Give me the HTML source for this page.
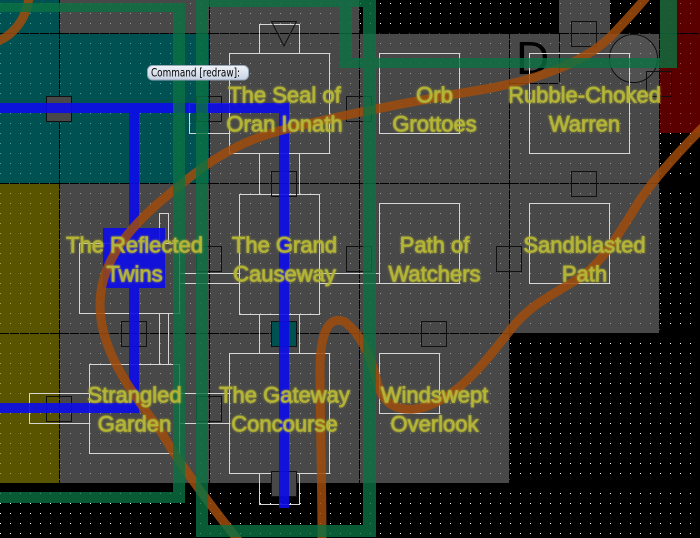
<!DOCTYPE html>
<html><head><meta charset="utf-8"><style>
html,body{margin:0;padding:0;background:#000;}
svg{display:block;}
</style></head><body>
<svg width="700" height="538" viewBox="0 0 700 538" xmlns="http://www.w3.org/2000/svg">
<defs>
<pattern id="dots" width="10" height="10" patternUnits="userSpaceOnUse">
<rect x="0" y="3" width="1" height="1" fill="#fff"/>
</pattern>
<filter id="glow" x="-10%" y="-40%" width="120%" height="180%">
<feGaussianBlur in="SourceGraphic" stdDeviation="1" result="b"/>
<feMerge><feMergeNode in="b"/><feMergeNode in="SourceGraphic"/></feMerge>
</filter>
<linearGradient id="tip" x1="0" y1="0" x2="0" y2="1"><stop offset="0" stop-color="#f0f4fa"/><stop offset="1" stop-color="#c6d1e1"/></linearGradient>
</defs>

<rect width="700" height="538" fill="#000"/>
<rect width="700" height="538" fill="url(#dots)"/>

<!-- region fills -->
<g fill-opacity="0.7">
<g fill="#676767">
<rect x="60" y="0" width="300" height="33"/>
<rect x="210" y="33" width="450" height="150"/>
<rect x="559" y="0" width="51" height="33"/>
<rect x="60" y="183" width="600" height="150"/>
<rect x="60" y="333" width="450" height="150"/>
</g>
<g fill="#007575">
<rect x="0" y="0" width="60" height="183"/>
<rect x="60" y="33" width="150" height="150"/>
</g>
<rect x="0" y="183" width="60" height="300" fill="#7e7800"/>
<rect x="660" y="0" width="40" height="133" fill="#820000"/>
</g>

<!-- grid lines -->
<g stroke="#000" stroke-width="1" stroke-dasharray="9 1" fill="none">
<line x1="59.5" y1="0" x2="59.5" y2="538"/>
<line x1="209.5" y1="0" x2="209.5" y2="538"/>
<line x1="359.5" y1="0" x2="359.5" y2="538"/>
<line x1="509.5" y1="0" x2="509.5" y2="538"/>
<line x1="659.5" y1="0" x2="659.5" y2="538"/>
<line x1="0" y1="33.5" x2="700" y2="33.5"/>
<line x1="0" y1="183.5" x2="700" y2="183.5"/>
<line x1="0" y1="333.5" x2="700" y2="333.5"/>
<line x1="0" y1="483.5" x2="700" y2="483.5"/>
<line x1="559.5" y1="33" x2="559.5" y2="83"/>
<line x1="509" y1="83.5" x2="559" y2="83.5"/>
</g>

<!-- circle and D -->
<circle cx="633.5" cy="58.5" r="24" fill="rgba(255,255,255,0.05)" stroke="#111" stroke-width="1"/>
<text x="516" y="74" font-family="Liberation Sans, sans-serif" font-size="46" fill="#000">D</text>

<!-- room outlines -->
<g stroke="#d6d6d6" stroke-width="1" fill="none">
<rect x="229.5" y="53.5" width="100" height="100"/>
<path d="M259.5,53 V24.5 H299.5 V53"/>
<path d="M229,103.5 H189.5 V133.5 H229"/>
<path d="M259.5,153 V194 M299.5,153 V194"/>
<rect x="239.5" y="194.5" width="80" height="120"/>
<path d="M319,273.5 H379 M319,283.5 H379"/>
<path d="M179,273.5 H239 M179,283.5 H239"/>
<path d="M259.5,314 V353 M299.5,314 V353"/>
<rect x="229.5" y="353.5" width="100" height="120"/>
<path d="M259.5,473 V504.5 H299.5 V473"/>
<path d="M179,393.5 H229 M179,423.5 H229"/>
<rect x="79.5" y="243.5" width="100" height="70"/>
<path d="M159.5,243 V213.5 H168.5 V243"/>
<path d="M159.5,314 V364 M168.5,314 V364"/>
<rect x="89.5" y="364.5" width="90" height="89"/>
<path d="M89,393.5 H29.5 V423.5 H89"/>
<rect x="379.5" y="53.5" width="80" height="80"/>
<rect x="529.5" y="53.5" width="100" height="100"/>
<rect x="379.5" y="203.5" width="80" height="80"/>
<rect x="529.5" y="203.5" width="80" height="80"/>
<rect x="379.5" y="353.5" width="60" height="60"/>
</g>

<!-- doors -->
<g stroke="#111" stroke-width="1" fill="none">
<rect x="46.5" y="96.5" width="25" height="25" fill="#484848"/>
<rect x="196.5" y="96.5" width="25" height="25"/>
<rect x="346.5" y="96.5" width="25" height="25"/>
<rect x="271.5" y="171.5" width="25" height="25"/>
<rect x="571.5" y="21.5" width="25" height="25"/>
<rect x="571.5" y="171.5" width="25" height="25"/>
<rect x="646.5" y="71.5" width="25" height="25"/>
<rect x="196.5" y="246.5" width="25" height="25"/>
<rect x="346.5" y="246.5" width="25" height="25"/>
<rect x="496.5" y="246.5" width="25" height="25"/>
<rect x="121.5" y="321.5" width="25" height="25"/>
<rect x="271.5" y="321.5" width="25" height="25" fill="#005252"/>
<rect x="421.5" y="321.5" width="25" height="25"/>
<rect x="46.5" y="396.5" width="25" height="25"/>
<rect x="196.5" y="396.5" width="25" height="25"/>
<rect x="271.5" y="471.5" width="25" height="25" fill="#484848"/>
<path d="M271.5,21.5 H296.5 L284,46 Z"/>
</g>

<!-- blue -->
<g fill="#0c0cea" opacity="0.9">
<rect x="0" y="103" width="289" height="10"/>
<rect x="129" y="113" width="10" height="300"/>
<rect x="0" y="403" width="129" height="10"/>
<rect x="279" y="113" width="10" height="395"/>
<rect x="103" y="228" width="26" height="60"/>
<rect x="139" y="228" width="26" height="60"/>
</g>

<!-- orange -->
<g fill="none" stroke="#a04c0c" stroke-width="9" opacity="0.85">
<path d="M-4,42 C12,36 27,20 29,-4"/>
<path d="M242,545 C210,505 180,465 160,430 C130,390 100,350 100,305 C100,265 125,230 168,195 C200,168 230,145 275,132 C320,120 400,103 480,90 C540,80 590,60 615,32 C630,16 640,5 648,-5"/>
<path d="M712,118 C680,150 655,178 640,200 C620,232 605,258 585,274 C560,292 530,302 508,333 C485,362 460,395 425,407 C395,415 382,400 378,385 C372,360 362,335 345,322 C330,315 320,330 320,370 C320,420 322,480 322,545"/>
</g>

<!-- green loops -->
<g fill="#0a7242" opacity="0.8">
<rect x="0" y="3" width="185" height="9"/>
<rect x="173" y="12" width="12" height="480"/>
<rect x="0" y="492" width="185" height="11"/>
<rect x="196" y="0" width="180" height="7"/>
<rect x="196" y="7" width="12" height="518"/>
<rect x="363" y="7" width="13" height="518"/>
<rect x="196" y="525" width="180" height="12"/>
<rect x="340" y="7" width="12" height="51"/>
<rect x="340" y="58" width="337" height="10"/>
<rect x="660" y="0" width="17" height="58"/>
</g>

<!-- labels -->
<g font-family="Liberation Sans, Arial, sans-serif" font-size="22" fill="#b6b638" stroke="#b0b034" stroke-width="0.9" stroke-opacity="0.7" text-anchor="middle" filter="url(#glow)">
<text x="284.5" y="102.5">The Seal of</text>
<text x="284.5" y="131.5">Oran Ionath</text>
<text x="434.5" y="102.5">Orb</text>
<text x="434.5" y="131.5">Grottoes</text>
<text x="584.5" y="102.5">Rubble-Choked</text>
<text x="584.5" y="131.5">Warren</text>
<text x="134.5" y="252.5">The Reflected</text>
<text x="134.5" y="281.5">Twins</text>
<text x="284.5" y="252.5">The Grand</text>
<text x="284.5" y="281.5">Causeway</text>
<text x="434.5" y="252.5">Path of</text>
<text x="434.5" y="281.5">Watchers</text>
<text x="584.5" y="252.5">Sandblasted</text>
<text x="584.5" y="281.5">Path</text>
<text x="134.5" y="402.5">Strangled</text>
<text x="134.5" y="431.5">Garden</text>
<text x="284.5" y="402.5">The Gateway</text>
<text x="284.5" y="431.5">Concourse</text>
<text x="434.5" y="402.5">Windswept</text>
<text x="434.5" y="431.5">Overlook</text>
</g>

<!-- tooltip -->
<rect x="147.5" y="65.5" width="101" height="14.5" rx="5" ry="5" fill="url(#tip)" stroke="#97a5b8" stroke-width="1"/>
<text x="151" y="76.5" font-family="DejaVu Sans, Liberation Sans, sans-serif" font-size="11.5" fill="#000" textLength="89" lengthAdjust="spacingAndGlyphs">Command [redraw]:</text>
</svg>
</body></html>
